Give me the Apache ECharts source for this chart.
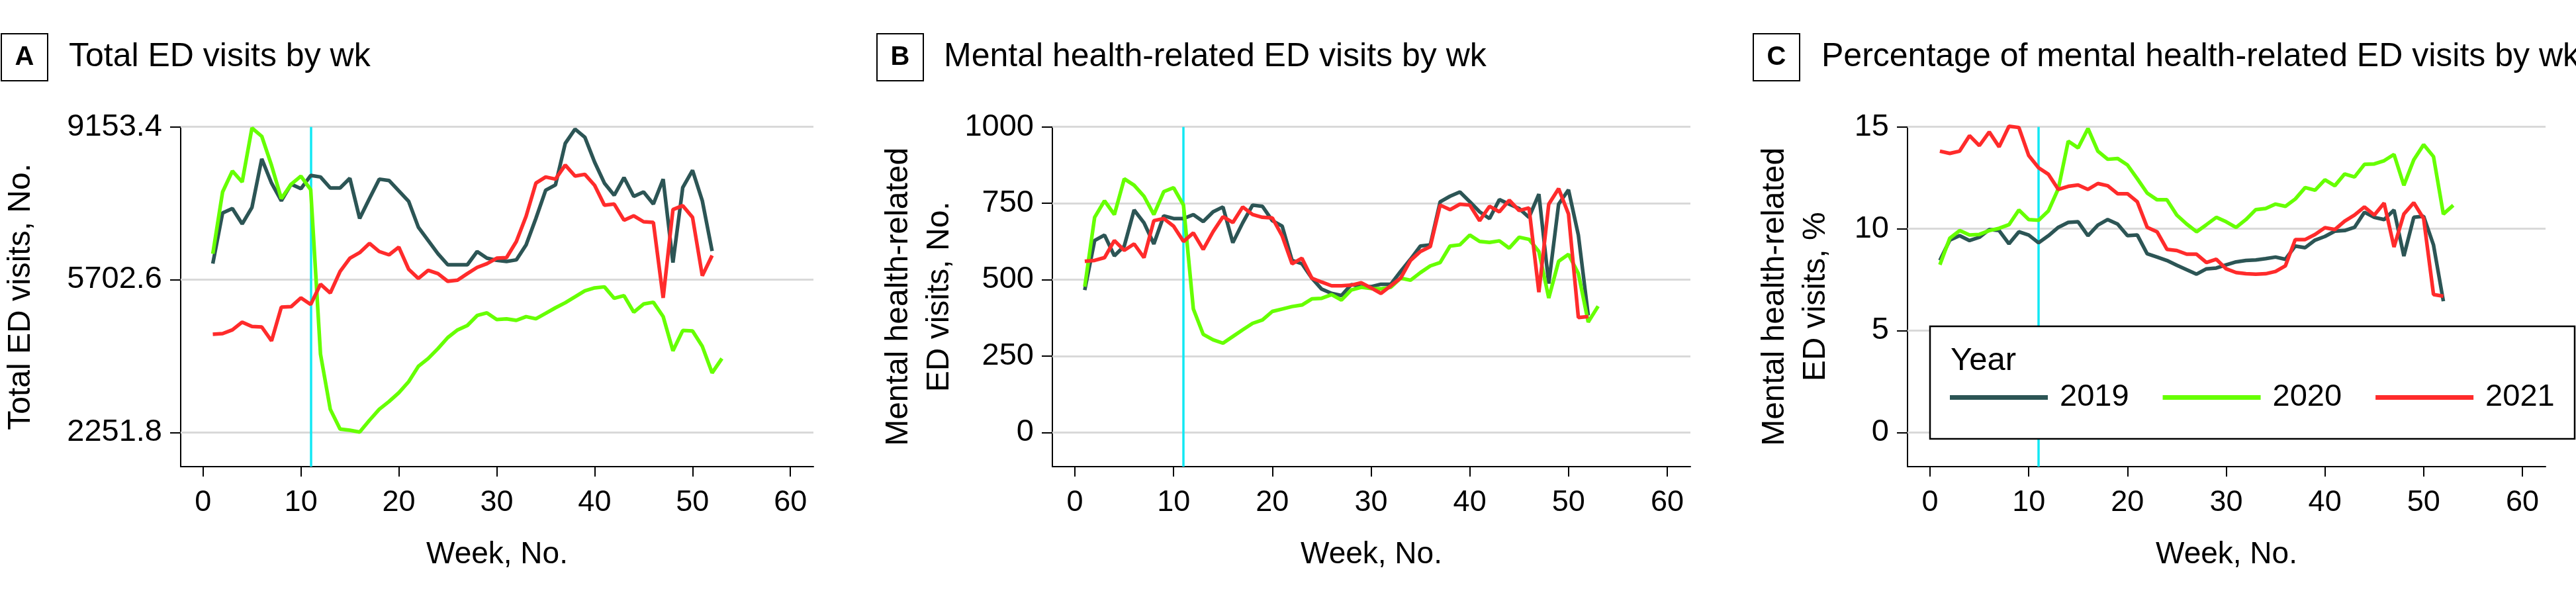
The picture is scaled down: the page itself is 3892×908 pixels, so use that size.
<!DOCTYPE html>
<html>
<head>
<meta charset="utf-8">
<script src="https://cdn.jsdelivr.net/npm/echarts@6/dist/echarts.min.js"></script>
<style>
html,body{margin:0;padding:0;background:#fff;}
#chart{width:3892px;height:908px;}
</style>
</head>
<body>
<div id="chart"></div>
<script>
// ---------- data ----------
const weeks = [1,2,3,4,5,6,7,8,9,10,11,12,13,14,15,16,17,18,19,20,21,22,23,24,25,26,27,28,29,30,31,32,33,34,35,36,37,38,39,40,41,42,43,44,45,46,47,48,49,50,51,52,53];
const yearNames = ['2019', '2020', '2021'];

// Panel A: total ED visits by week
const total2019 = [6064,7210,7310,6961,7335,8431,7883,7484,7858,7758,8057,8022,7773,7773,7993,7086,7534,7973,7943,7708,7474,6886,6587,6288,6039,6039,6039,6338,6188,6138,6114,6149,6487,7086,7723,7843,8780,9104,8920,8356,7883,7609,8008,7584,7684,7410,7973,6089,7783,8172,7484,6348];
const total2020 = [6288,7684,8157,7908,9129,8940,8282,7534,7858,8042,7733,4020,2774,2326,2301,2261,2525,2774,2949,3148,3397,3746,3921,4145,4394,4568,4668,4892,4952,4803,4818,4783,4868,4818,4942,5067,5182,5316,5451,5516,5540,5281,5341,4967,5152,5192,4868,4095,4554,4544,4195,3597,3921];
const total2021 = [4469,4484,4569,4743,4643,4633,4319,5082,5092,5291,5141,5600,5401,5889,6188,6313,6522,6338,6263,6437,5939,5730,5914,5839,5665,5690,5839,5979,6064,6188,6200,6562,7135,7883,8022,7973,8292,8042,8082,7833,7385,7410,7046,7145,7011,6996,5291,7285,7375,7110,5790,6248];

// Panel B: mental health-related ED visits by week
const mh2019 = [466,628,646,578,610,728,686,617,709,700,700,713,690,722,738,621,686,744,740,693,675,563,552,505,469,455,448,484,477,477,485,485,527,567,610,614,755,773,787,755,722,700,762,747,733,704,780,487,747,794,646,383];
const mh2020 = [477,704,758,713,830,809,773,713,788,801,744,404,321,303,292,314,336,357,368,396,404,412,417,437,439,451,433,466,475,471,470,475,505,498,523,545,556,610,614,646,625,622,627,603,639,632,592,440,560,583,520,361,413];
const mh2021 = [560,563,572,628,596,617,572,693,700,675,625,653,599,657,706,687,738,713,704,702,643,552,570,505,492,480,480,482,490,473,455,480,505,563,592,608,744,729,747,744,693,740,722,760,726,735,459,747,798,715,376,379];

// Panel C: percentage of mental health-related ED visits by week
const pct2019 = [8.44,9.44,9.66,9.42,9.58,9.96,9.91,9.26,9.85,9.69,9.31,9.66,10.07,10.31,10.34,9.66,10.18,10.45,10.23,9.66,9.69,8.77,8.61,8.44,8.21,7.99,7.77,8.03,8.07,8.23,8.37,8.44,8.47,8.53,8.61,8.50,9.15,9.07,9.44,9.62,9.88,9.91,10.07,10.81,10.56,10.45,10.92,8.66,10.56,10.61,9.20,6.44];
const pct2020 = [8.23,9.53,9.91,9.69,9.72,9.91,10.02,10.20,10.92,10.45,10.42,10.88,11.97,14.30,13.97,14.92,13.81,13.41,13.45,13.13,12.45,11.75,11.42,11.42,10.67,10.23,9.85,10.20,10.56,10.34,10.06,10.45,10.94,10.99,11.21,11.10,11.46,12.02,11.89,12.40,12.11,12.69,12.54,13.16,13.18,13.34,13.65,12.13,13.38,14.13,13.54,10.72,11.15];
const pct2021 = [13.81,13.70,13.81,14.57,14.08,14.75,14.02,15.03,14.97,13.59,12.99,12.67,11.93,12.08,12.15,11.93,12.22,12.11,11.72,11.72,11.32,10.07,9.85,8.99,8.93,8.75,8.75,8.34,8.50,8.03,7.85,7.79,7.77,7.79,7.90,8.18,9.47,9.47,9.72,10.05,9.96,10.37,10.67,11.07,10.67,11.26,9.10,10.72,11.28,10.50,6.77,6.69];

// tick labels
const totalTicks = [2251.8, 5702.6, 9153.4];
const mhTicks = [0, 250, 500, 750, 1000];
const pctTicks = [0, 5, 10, 15];
const weekTicks = [0, 10, 20, 30, 40, 50, 60];
const cutoffWeek = 11;

const panelLetters = ['A', 'B', 'C'];
const panelTitles = ['Total ED visits by wk', 'Mental health-related ED visits by wk', 'Percentage of mental health-related ED visits by wk'];
const yNames = ['Total ED visits, No.', 'Mental health-related\nED visits, No.', 'Mental health-related\nED visits, %'];
const legendTitle = 'Year';

// ---------- styling / layout ----------
const FONT = "'Liberation Sans', Arial, sans-serif";
const colors = ['#2c5555', '#66ff00', '#ff2b2b'];
const cyan = '#12e8f4';
const gridColor = '#d9d9d9';

const panels = [
  { left: 266, width: 963, yMin: 1478.8, yMax: 9153.4, ticks: totalTicks, fmt: v => v.toFixed(1), nameGap: 210, data: [total2019, total2020, total2021] },
  { left: 1590, width: 964, yMin: -112, yMax: 1000, ticks: mhTicks, fmt: v => String(v), nameGap: 139, data: [mh2019, mh2020, mh2021] },
  { left: 2882, width: 964, yMin: -1.68, yMax: 15, ticks: pctTicks, fmt: v => String(v), nameGap: 107, data: [pct2019, pct2020, pct2021] }
];
const boxLefts = [2, 1325, 2649];
const titleLefts = [104, 1426, 2752];

const pair = arr => arr.map((v, i) => [weeks[i], v]);

const grid = [], xAxis = [], yAxis = [], series = [], graphic = [];

panels.forEach((p, gi) => {
  grid.push({ left: p.left, width: p.width, top: 191.7, height: 513.3, containLabel: false });
  xAxis.push({
    type: 'value', gridIndex: gi, min: -2.28, max: 62.35,
    axisLine: { show: true, onZero: false, lineStyle: { color: '#000', width: 2 } },
    axisTick: { show: true, customValues: weekTicks, length: 15, lineStyle: { color: '#000', width: 2 } },
    axisLabel: { customValues: weekTicks, fontSize: 45, color: '#000', margin: 32, fontFamily: FONT },
    splitLine: { show: false },
    name: 'Week, No.', nameLocation: 'middle', nameGap: 110,
    nameTextStyle: { fontSize: 46, color: '#000', fontFamily: FONT }
  });
  yAxis.push({
    type: 'value', gridIndex: gi, min: p.yMin, max: p.yMax,
    axisLine: { show: true, onZero: false, lineStyle: { color: '#000', width: 2 } },
    axisTick: { show: true, customValues: p.ticks, length: 16, lineStyle: { color: '#000', width: 2 } },
    axisLabel: { customValues: p.ticks, formatter: p.fmt, fontSize: 47, color: '#000', margin: 28, fontFamily: FONT },
    splitLine: { show: false },
    name: yNames[gi], nameLocation: 'middle', nameGap: p.nameGap,
    nameTextStyle: { fontSize: 48, lineHeight: 62, color: '#000', fontFamily: FONT }
  });
  // reference lines: horizontal grid lines and the week-11 marker (drawn beneath the data)
  series.push({
    type: 'line', xAxisIndex: gi, yAxisIndex: gi, data: [], z: 1, silent: true,
    markLine: {
      z: 1, silent: true, symbol: ['none', 'none'], label: { show: false }, animation: false,
      data: p.ticks.map(t => ({ yAxis: t, lineStyle: { color: gridColor, width: 3, type: 'solid' } }))
        .concat([{ xAxis: cutoffWeek, lineStyle: { color: cyan, width: 3.5, type: 'solid' } }])
    }
  });
  p.data.forEach((arr, si) => {
    series.push({
      name: yearNames[si], type: 'line', xAxisIndex: gi, yAxisIndex: gi,
      data: pair(arr), showSymbol: false, symbol: 'none', clip: false, z: 2,
      lineStyle: { color: colors[si], width: 5.5 },
      itemStyle: { color: colors[si] }
    });
  });
  // panel heading
  graphic.push({ type: 'rect', shape: { x: boxLefts[gi], y: 51, width: 70, height: 71 }, style: { fill: '#fff', stroke: '#000', lineWidth: 2 } });
  graphic.push({ type: 'text', x: boxLefts[gi] + 35, y: 87, style: { text: panelLetters[gi], font: 'bold 40px ' + FONT, fill: '#000', textAlign: 'center', textVerticalAlign: 'middle' } });
  graphic.push({ type: 'text', x: titleLefts[gi], y: 86, style: { text: panelTitles[gi], font: '50px ' + FONT, fill: '#000', textAlign: 'left', textVerticalAlign: 'middle' } });
});

// opaque legend panel on its own layer, covering the plot beneath it
graphic.push({ type: 'rect', z: 100, zlevel: 2, shape: { x: 2916, y: 493, width: 974, height: 170 }, style: { fill: '#ffffff', stroke: '#000', lineWidth: 2.5 } });

const chart = echarts.init(document.getElementById('chart'), null, { renderer: 'canvas' });
chart.setOption({
  animation: false,
  backgroundColor: '#fff',
  grid, xAxis, yAxis, series, graphic,
  title: {
    text: legendTitle, left: 2947, top: 521, padding: 0, zlevel: 3, z: 12,
    textStyle: { fontSize: 49, fontWeight: 'normal', color: '#000', fontFamily: FONT, lineHeight: 49 }
  },
  legend: {
    data: yearNames, left: 2946, top: 577, orient: 'horizontal', padding: 0,
    icon: 'rect', itemWidth: 148, itemHeight: 7, itemGap: 51, selectedMode: false, zlevel: 3, z: 10,
    textStyle: { fontSize: 47, lineHeight: 47, color: '#000', fontFamily: FONT, padding: [0, 0, 0, 13] }
  }
});
</script>
</body>
</html>
